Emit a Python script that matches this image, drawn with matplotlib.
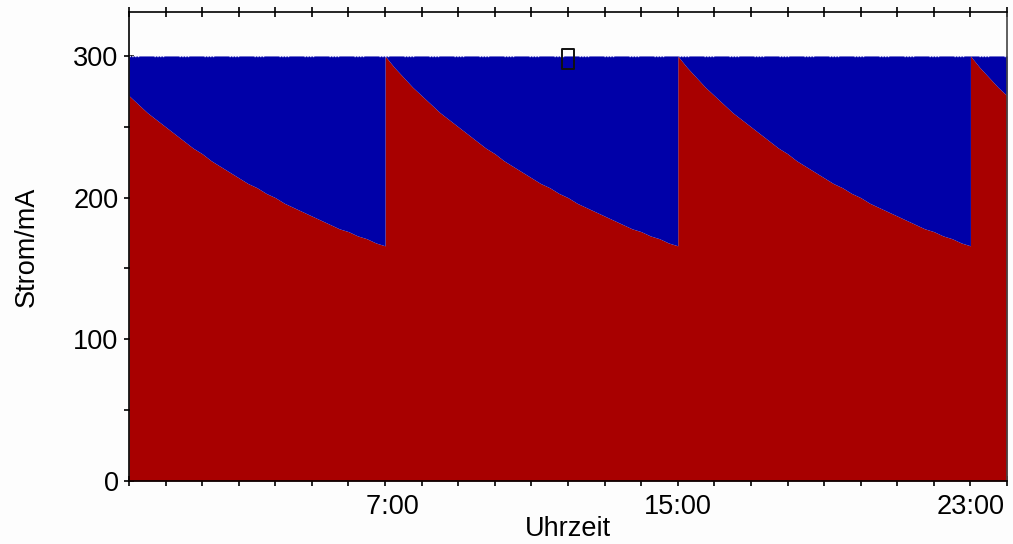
import matplotlib
matplotlib.use("Agg")
import matplotlib.pyplot as plt
from matplotlib.ticker import MultipleLocator, FixedLocator, FixedFormatter
from matplotlib.path import Path

plt.rcParams['font.family'] = ['Liberation Sans', 'DejaVu Sans']

# decay profile after an injection (hours since injection, beam current in mA)
decay_hours = [0.0, 0.25, 0.5, 0.75, 1.0, 1.25, 1.5, 1.75, 2.0, 2.25, 2.5, 2.75, 3.0, 3.25,
               3.5, 3.75, 4.0, 4.25, 4.5, 4.75, 5.0, 5.25, 5.5, 5.75, 6.0, 6.25, 6.5, 6.75,
               7.0, 7.25, 7.5, 7.75, 8.0]
decay_current = [300, 292, 285, 278, 272, 266, 260, 255, 250, 245, 240, 235, 231, 226,
                 222, 218, 214, 210, 207, 203, 200, 196, 193, 190, 187, 184, 181, 178,
                 176, 173, 171, 168, 166]
injection_times = [-1, 7, 15, 23]   # injections (the first one on the previous day, 23:00)
target = 300                          # injection level (top of blue area)

marker_time = [12.0]
marker_value = [297.5]

xtick_hours = [7, 15, 23]
xtick_labels = ['  7:00', '15:00', '23:00']
ytick_values = [0, 100, 200, 300]

red = '#a80000'
blue = '#0000a8'

# assemble the day from the read decay profile
hours, current = [], []
for t0 in injection_times:
    for h, c in zip(decay_hours, decay_current):
        t = t0 + h
        if 0 <= t <= 24:
            hours.append(t)
            current.append(c)

fig = plt.figure(figsize=(10.13, 5.44), dpi=100, facecolor='#fdfdfd')
ax = fig.add_axes([0.1273, 0.1158, 0.8668, 0.8621])
ax.set_facecolor('#fdfdfd')

top = [target] * len(hours)
ax.fill_between(hours, 0, current, color=red, linewidth=0, zorder=2)
ax.fill_between(hours, current, top, color=blue, linewidth=0, zorder=2)
ax.plot([hours[0], hours[-1]], [target, target], color='#e8e8ff', lw=1.0,
        linestyle=(0, (1, 1, 1, 1, 1, 1, 1, 11)), zorder=3)

rect = Path([(-0.32, -0.5), (0.32, -0.5), (0.32, 0.5), (-0.32, 0.5), (-0.32, -0.5)],
            [Path.MOVETO, Path.LINETO, Path.LINETO, Path.LINETO, Path.CLOSEPOLY])
ax.plot(marker_time, marker_value, marker=rect, markersize=14, mfc='none',
        mec='#111111', mew=1.4, linestyle='none', zorder=4)

ax.set_xlim(0, 24)
ax.set_ylim(0, 331)

ax.xaxis.set_major_locator(FixedLocator(xtick_hours))
ax.xaxis.set_major_formatter(FixedFormatter(xtick_labels))
ax.xaxis.set_minor_locator(MultipleLocator(1))
ax.yaxis.set_major_locator(FixedLocator(ytick_values))
ax.yaxis.set_minor_locator(MultipleLocator(50))

ax.tick_params(axis='x', which='both', direction='inout', length=7, width=1.2,
               top=True, labelsize=19.5, pad=6, colors='black')
ax.tick_params(axis='y', which='both', direction='inout', length=7, width=1.2,
               right=False, labelsize=19.5, pad=4, colors='black')

for s in ax.spines.values():
    s.set_linewidth(1.2)
    s.set_color('black')
    s.set_zorder(5)
ax.spines['right'].set_color('#444444')

ax.set_xlabel('Uhrzeit', fontsize=19.5, labelpad=-3)
ax.set_ylabel('Strom/mA', fontsize=19.5, labelpad=24)

fig.savefig('out.png', dpi=100, facecolor=fig.get_facecolor())
